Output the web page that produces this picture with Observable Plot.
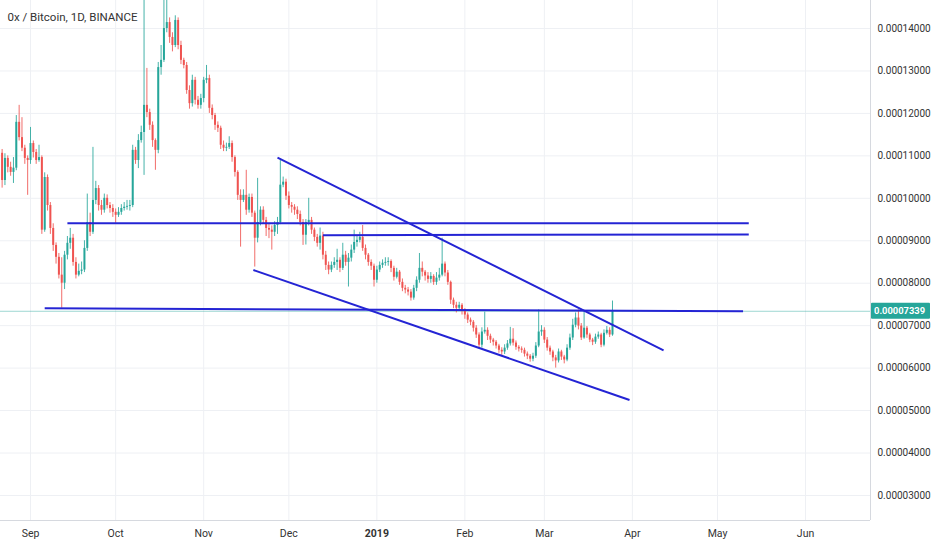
<!DOCTYPE html>
<html><head><meta charset="utf-8">
<script src="https://cdn.jsdelivr.net/npm/d3@7"></script>
<script src="https://cdn.jsdelivr.net/npm/@observablehq/plot@0.6"></script>
<style>body{margin:0;background:#fff}svg{display:block}</style>
</head><body><div id="chart"></div>
<script>
// ---- data (prices in satoshi, 1e-8 BTC) ----
const title = "0x / Bitcoin, 1D, BINANCE";
const startDate = "2018-08-22";
const firstOpen = 11060;
const closes = [10420,10940,10730,10610,10710,11790,11430,11180,10940,10890,
 11290,11080,10890,10960,9250,10490,9830,9290,8890,8610,
 8190,8000,8660,8940,9060,8490,8190,8280,8310,8820,
 9430,9200,9950,10230,9830,9720,10000,9830,9760,9670,
 9600,9670,9760,9790,9810,9830,11130,10890,11360,11550,
 12190,12020,11720,11360,11130,13080,13250,14000,14140,13790,
 13600,14190,13600,13250,13130,12540,12230,12780,12310,12190,
 12350,12780,12820,12120,11950,11720,11650,11250,11180,11200,
 11290,10960,10610,10070,9950,10070,9720,10020,9650,9060,
 9430,9720,9480,9290,9250,9200,9360,9430,10310,10380,
 10050,9830,9790,9720,9620,9430,9130,9430,9480,9250,
 9080,8940,9110,8660,8420,8310,8420,8490,8540,8350,
 8660,8490,8590,8780,8960,9010,9080,8820,8660,8490,
 8400,8070,8310,8420,8470,8490,8510,8350,8140,8260,
 8020,7880,7840,7790,7650,7880,8070,8350,8260,8170,
 8090,8160,8020,8120,8190,8450,8240,8020,7600,7480,
 7410,7480,7370,7250,7130,7080,6940,6780,6540,6850,
 6890,6750,6660,6610,6520,6420,6380,6470,6570,6680,
 6590,6490,6450,6420,6330,6280,6210,6280,6520,6850,
 6890,6660,6470,6380,6240,6170,6380,6260,6190,6470,
 6710,7010,7180,6990,6710,6940,6780,6660,6610,6730,
 6780,6540,6820,6890,6780,7339];
const highs = [11150,11050,11000,10850,10960,11950,12190,11900,11250,11000,
 11670,11350,11150,11250,11000,10600,10550,9900,9400,8950,
 8700,8600,8750,9100,9290,9150,8600,8450,8500,9000,
 10100,9650,11200,10400,10300,9950,10100,10080,9900,9850,
 9750,9780,9850,9900,9950,9950,11250,11200,11500,11700,
 14660,13060,12100,11800,11400,13200,13600,14660,14660,14250,
 13900,14300,14250,13700,13300,13200,12650,12900,12850,12400,
 12450,12850,13130,12900,12200,12000,11800,11700,11350,11300,
 11450,11350,11000,10650,10200,10200,10660,10100,10100,9700,
 10470,9800,9800,9550,9400,9350,9450,9550,10890,10500,
 10450,10150,9900,9850,9800,9700,9500,9500,10000,9550,
 9300,9150,9300,9200,8750,8500,8500,8600,8800,8600,
 8940,8750,8700,8900,9250,9100,9200,9360,8900,8700,
 8550,8450,8400,8500,8550,8600,8600,8550,8400,8350,
 8300,8100,7950,7900,7850,7950,8150,8700,8500,8300,
 8250,8250,8200,8250,8350,9060,8500,8300,8050,7650,
 7550,7550,7520,7400,7300,7180,7120,7000,6830,6950,
 7320,6950,6800,6700,6650,6560,6480,6550,6650,6960,
 6930,6640,6530,6500,6470,6380,6320,6350,6600,7370,
 7000,6950,6720,6520,6420,6300,6450,6420,6300,6550,
 6800,7150,7300,7370,7050,7320,6980,6820,6700,6800,
 6850,6820,6900,6980,6950,7580];
const lows = [10240,10300,10600,10520,10350,10650,11350,11100,10800,10070,
 10800,10950,10800,10850,9150,9200,9700,9150,8750,8450,
 8100,7410,7850,8550,8800,8400,8100,8150,8200,8250,
 8750,9100,9150,9850,9700,9600,9650,9750,9650,9550,
 9410,9550,9600,9700,9720,9700,9780,10800,10700,11300,
 10540,11900,11600,11200,10660,11050,12900,13200,13900,13650,
 13450,13550,13500,13150,13050,12450,12100,12150,12200,12100,
 12100,12250,12700,12000,11850,11600,11550,11150,11100,11100,
 11150,10850,10500,9950,8850,9900,9600,9650,9550,8380,
 8950,9350,9400,9100,9050,8780,9100,9150,9380,10250,
 9950,9750,9650,9600,9500,9350,8890,8900,9350,9150,
 8980,8850,8780,8550,8300,8200,8250,8350,8300,8250,
 8300,8400,7910,8500,8700,8850,8950,8750,8550,8400,
 8300,7910,8000,8250,8350,8400,8400,8250,8050,8100,
 7950,7800,7750,7700,7580,7600,7800,8000,8150,8050,
 8000,8000,7950,7950,8050,8150,8150,7950,7500,7400,
 7300,7350,7250,7150,7050,7000,6850,6700,6470,6470,
 6800,6650,6580,6520,6450,6350,6300,6320,6420,6520,
 6520,6420,6380,6350,6260,6200,6140,6150,6230,6480,
 6750,6580,6400,6300,6150,6000,6120,6180,6100,6150,
 6420,6650,6950,6900,6650,6680,6700,6600,6530,6560,
 6680,6480,6500,6780,6720,6750];
const lastPrice = 7339;
const priceTicks = [3000,4000,5000,6000,7000,8000,9000,10000,11000,12000,13000,14000];
const monthTickDates = ["2018-09-01","2018-10-01","2018-11-01","2018-12-01","2019-01-01","2019-02-01","2019-03-01","2019-04-01","2019-05-01","2019-06-01"];
const monthLabels = ["Sep","Oct","Nov","Dec","2019","Feb","Mar","Apr","May","Jun"];
// drawn lines
const lineStartDates = ["2018-09-06","2018-09-14","2018-12-13","2018-11-27","2018-11-18T12:00Z"];
const lineStartPrices = [7410,9410,9130,10960,8310];
const lineEndDates = ["2019-05-10","2019-05-12","2019-05-12","2019-04-12","2019-03-31"];
const lineEndPrices = [7340,9410,9150,6420,5250];

// ---- build ----
const up = "#26a69a", down = "#ef5350";
const candles = closes.map((c, i) => {
  const open = i ? closes[i - 1] : firstOpen;
  return {date: d3.utcDay.offset(new Date(startDate), i), open, close: c, high: highs[i], low: lows[i], col: c >= open ? up : down};
});
const trend = lineStartDates.map((d, i) => ({x1: new Date(d), y1: lineStartPrices[i], x2: new Date(lineEndDates[i]), y2: lineEndPrices[i]}));
const monthDates = monthTickDates.map(d => new Date(d));
const labelOf = new Map(monthDates.map((d, i) => [+d, monthLabels[i]]));
const xDomain = [new Date("2018-08-21T10:23Z"), new Date("2019-06-23T21:07Z")];
const yDomain = [2410, 14660];
const fmt = d => (d / 1e8).toFixed(8);

const chart = Plot.plot({
  width: 932, height: 550,
  marginTop: 0, marginRight: 62, marginBottom: 30, marginLeft: 0,
  style: {fontFamily: "Roboto, sans-serif", fontSize: "10px", color: "#333", background: "#fff", overflow: "visible"},
  x: {type: "utc", domain: xDomain, axis: null},
  y: {domain: yDomain, axis: null},
  marks: [
    Plot.gridY(priceTicks, {stroke: "#eef0f4", strokeOpacity: 1}),
    Plot.gridX(monthDates, {stroke: "#eef0f4", strokeOpacity: 1}),
    Plot.ruleY([lastPrice], {stroke: up, strokeOpacity: 0.45}),
    Plot.ruleX(candles, {x: "date", y1: "low", y2: "high", stroke: "col", strokeWidth: 1, strokeOpacity: 0.85}),
    Plot.ruleX(candles, {x: "date", y1: "open", y2: "close", stroke: "col", strokeWidth: 2}),
    Plot.link(trend, {x1: "x1", y1: "y1", x2: "x2", y2: "y2", stroke: "#2424d4", strokeWidth: 2}),
    Plot.axisY(priceTicks, {anchor: "right", tickSize: 0, tickPadding: 7, tickFormat: fmt, fontSize: 10, fill: "#333"}),
    Plot.axisX(monthDates, {tickSize: 0, tickPadding: 9, tickFormat: d => labelOf.get(+d), fontSize: 10.5, fill: "#333"}),
    Plot.ruleX([xDomain[1]], {stroke: "#d6d9df"}),
    Plot.ruleY([yDomain[0]], {stroke: "#d6d9df"}),
    Plot.text([title], {frameAnchor: "top-left", dx: 7, dy: 12, fontSize: 11.5, fill: "#333"})
  ]
});
document.getElementById("chart").append(chart);

// bold year label, last-price tag
const svg = d3.select(chart);
svg.selectAll("text").filter(function(){ return this.textContent === "2019"; }).attr("font-weight", "bold");
const yPos = chart.scale("y").apply(lastPrice);
svg.append("rect").attr("x", 871).attr("y", yPos - 8).attr("width", 59).attr("height", 16).attr("fill", up).attr("rx", 1);
svg.append("text").attr("x", 874).attr("y", yPos).attr("dy", "0.35em").attr("fill", "#fff")
  .attr("text-anchor", "start")
  .attr("font-size", 9.4).attr("font-weight", "bold").attr("font-family", "Roboto, sans-serif").text(fmt(lastPrice));
</script>
</body></html>
